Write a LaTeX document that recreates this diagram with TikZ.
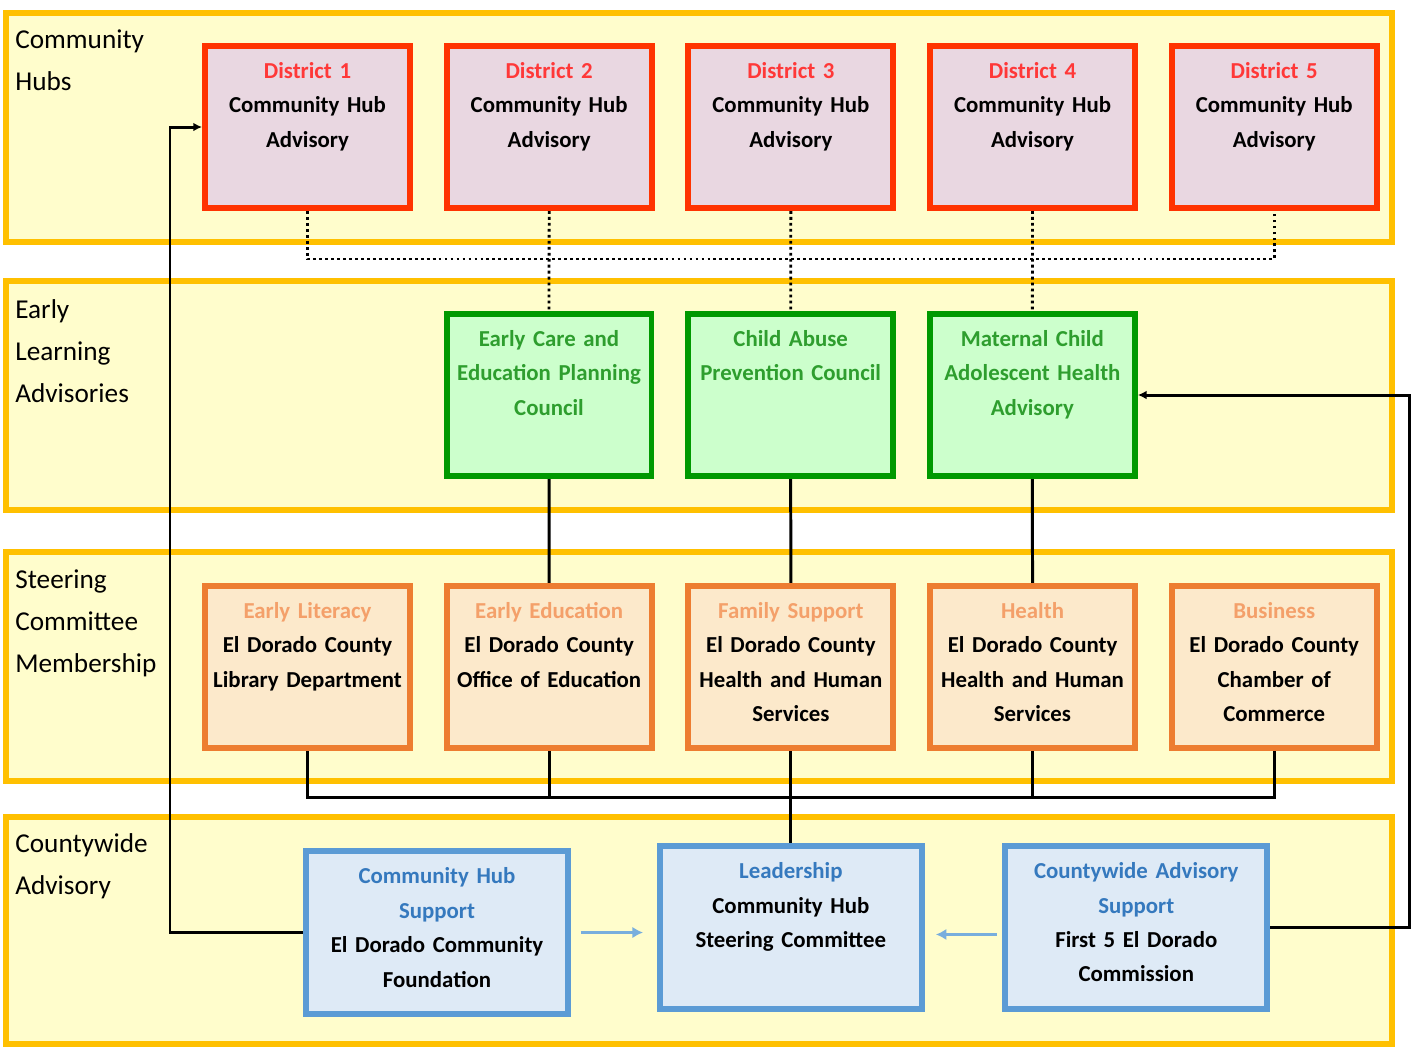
\documentclass[tikz,border=0pt]{standalone}
\usepackage{fontspec}
\setmainfont{Carlito}
\usetikzlibrary{positioning,arrows.meta,backgrounds}
\definecolor{laneyellow}{HTML}{FFFDCC}
\definecolor{laneborder}{HTML}{FFC000}
\definecolor{hubred}{HTML}{FF3300}
\definecolor{hubfill}{HTML}{E9D7E1}
\definecolor{hubtitle}{HTML}{FF3838}
\definecolor{elgreen}{HTML}{009900}
\definecolor{elfill}{HTML}{CCFFCC}
\definecolor{eltext}{HTML}{2E9E2E}
\definecolor{scorange}{HTML}{ED7D31}
\definecolor{scfill}{HTML}{FCE9CB}
\definecolor{sctitle}{HTML}{F4A06A}
\definecolor{cwblue}{HTML}{5B9BD5}
\definecolor{cwfill}{HTML}{DEEAF6}
\definecolor{cwtitle}{HTML}{3579BE}
\definecolor{flowblue}{HTML}{78AEDD}

\begin{document}
\begin{tikzpicture}[x=0.02cm, y=-0.02cm,
    lane/.style = {draw=laneborder, fill=laneyellow, line width=3.4pt},
    lanetext/.style = {anchor=north west, align=left, inner sep=0pt, font=\fontsize{15.5}{24}\selectfont},
    box/.style = {line width=3.4pt, minimum width=4.1cm, minimum height=3.24cm, text width=4.1cm, align=center, inner sep=0pt, font=\fontsize{13}{19.6}\selectfont\bfseries, execute at end node=\strut},
    hub/.style = {box, draw=hubred, fill=hubfill},
    early/.style = {box, draw=elgreen, fill=elfill, text=eltext},
    member/.style = {box, draw=scorange, fill=scfill},
    county/.style = {box, draw=cwblue, fill=cwfill, minimum width=5.24cm, minimum height=3.26cm, text width=5.24cm},
    link/.style = {line width=1.7pt},
    dots/.style = {line width=1.6pt, dash pattern=on 1.6pt off 1.8pt},
    flow/.style = {draw=flowblue, line width=1.7pt, -{Latex[length=6pt,width=6.5pt]}}]
\useasboundingbox (0,0) rectangle (1413,1046);

\node[lanetext] (hubslabel) at (15,29) {Community\\Hubs};
\node[lanetext] (earlylabel) at (15,299) {Early\\Learning\\Advisories};
\node[lanetext] (steerlabel) at (15,569) {Steering\\Committee\\Membership};
\node[lanetext] (countylabel) at (15,833) {Countywide\\Advisory};

\node[hub] (d1) at (307.5,127) {\textcolor{hubtitle}{District 1}\\Community Hub\\Advisory\\};
\node[hub] (d2) [right=0.615cm of d1] {\textcolor{hubtitle}{District 2}\\Community Hub\\Advisory\\};
\node[hub] (d3) [right=0.615cm of d2] {\textcolor{hubtitle}{District 3}\\Community Hub\\Advisory\\};
\node[hub] (d4) [right=0.615cm of d3] {\textcolor{hubtitle}{District 4}\\Community Hub\\Advisory\\};
\node[hub] (d5) [right=0.615cm of d4] {\textcolor{hubtitle}{District 5}\\Community Hub\\Advisory\\};

\node[early] (g1) at (549,395) {Early Care and\\Education Planning\\Council\\};
\node[early] (g2) [right=0.615cm of g1] {Child Abuse\\Prevention Council\\~\\};
\node[early] (g3) [right=0.615cm of g2] {Maternal Child\\Adolescent Health\\Advisory\\};

\node[member] (o1) at (307.5,667) {\textcolor{sctitle}{Early Literacy}\\El Dorado County\\Library Department\\};
\node[member] (o2) [right=0.615cm of o1] {\textcolor{sctitle}{Early Education}\\El Dorado County\\Office of Education\\};
\node[member] (o3) [right=0.615cm of o2] {\textcolor{sctitle}{Family Support}\\El Dorado County\\Health and Human\\Services};
\node[member] (o4) [right=0.615cm of o3] {\textcolor{sctitle}{Health}\\El Dorado County\\Health and Human\\Services};
\node[member] (o5) [right=0.615cm of o4] {\textcolor{sctitle}{Business}\\El Dorado County\\Chamber of\\Commerce};

\node[county] (lead) [below=1.84cm of o3] {\textcolor{cwtitle}{Leadership}\\Community Hub\\Steering Committee\\};
\node[county] (hubsup) at (437,932.5) {\textcolor{cwtitle}{Community Hub}\\\textcolor{cwtitle}{Support}\\El Dorado Community\\Foundation};
\node[county] (cwsup) [right=1.55cm of lead] {\textcolor{cwtitle}{Countywide Advisory}\\\textcolor{cwtitle}{Support}\\First 5 El Dorado\\Commission};

\coordinate (dbus) at (790,259);
\coordinate (obus) at (790,797);
\coordinate (lturn) at (170,0);
\coordinate (rturn) at (1409,0);
\coordinate (cwarrow) at ([yshift=-4pt]cwsup.west);

\begin{scope}[on background layer]
\fill[white] (0,0) rectangle (1413,1046);
\draw[lane] (6,13) rectangle (1392,242);
\draw[lane] (6,281) rectangle (1392,510);
\draw[lane] (6,552) rectangle (1392,781);
\draw[lane] (6,817) rectangle (1392,1044);

\draw[dots] (d1.south) |- (dbus) -| (d5.south);
\draw[dots] (d2.south) -- (g1.north);
\draw[dots] (d3.south) -- (g2.north);
\draw[dots] (d4.south) -- (g3.north);

\draw[link] (g1.south) -- (o2.north);
\draw[link] (g2.south) -- (o3.north);
\draw[link] (g3.south) -- (o4.north);
\draw[link] (o1.south) |- (obus) -| (o5.south);
\draw[link] (o2.south) -- (o2.south |- obus);
\draw[link] (o3.south) -- (lead.north);
\draw[link] (o4.south) -- (o4.south |- obus);

\draw[link, -{Latex[length=5pt,width=5pt]}] (hubsup.west) -- (hubsup.west -| lturn) |- (d1.west);
\draw[link, -{Latex[length=5pt,width=5pt]}] (cwsup.east) -- (cwsup.east -| rturn) |- (g3.east);
\end{scope}

\draw[flow, shorten <=5.7pt, shorten >=7.9pt] (hubsup.east) -- (hubsup.east -| lead.west);
\draw[flow, shorten <=3.1pt, shorten >=6.3pt] (cwarrow) -- (cwarrow -| lead.east);
\end{tikzpicture}
\end{document}
